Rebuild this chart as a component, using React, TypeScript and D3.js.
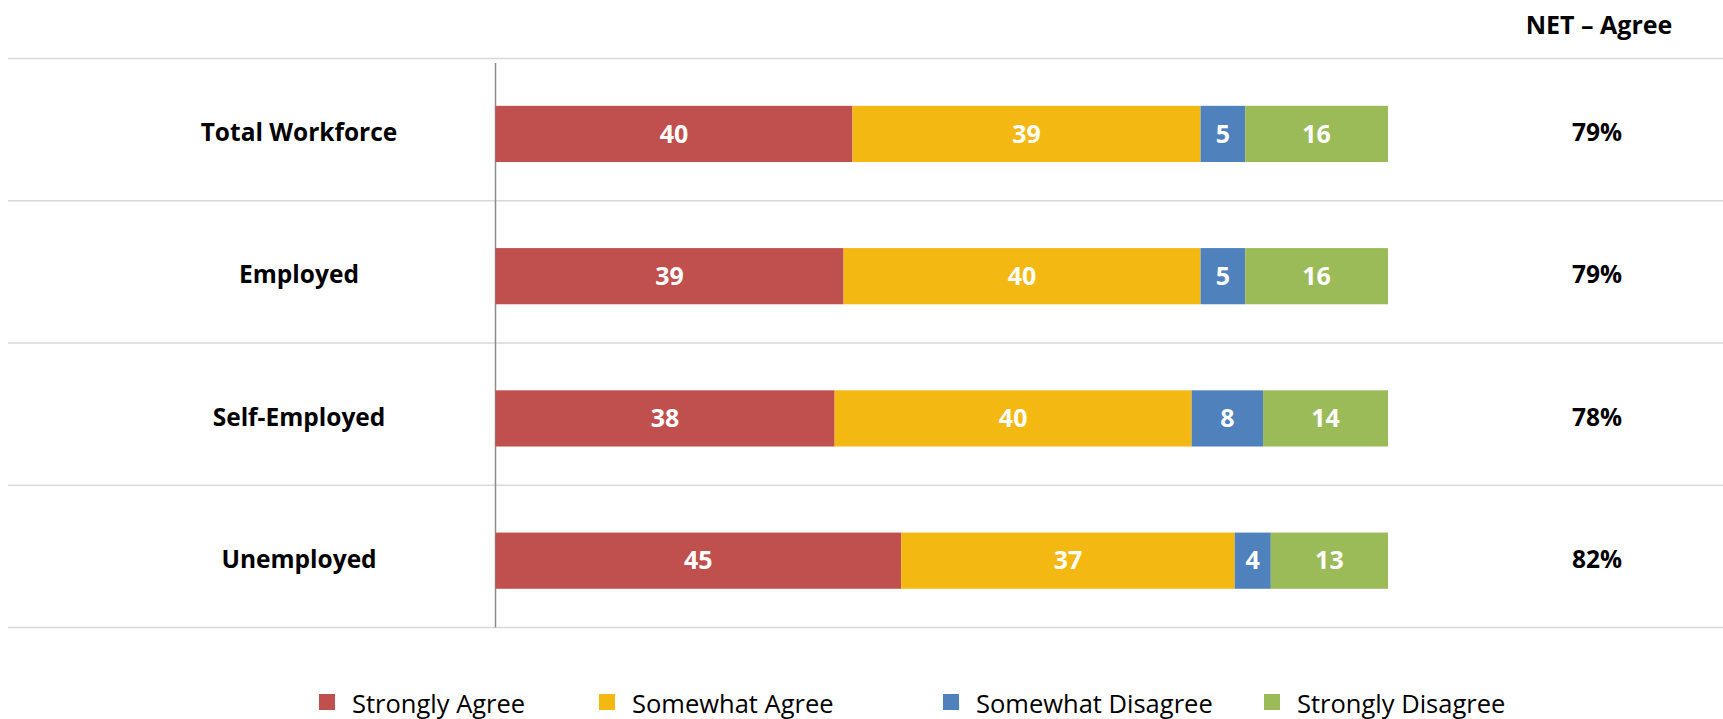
import React from "react";
import * as d3 from "d3";

const categories = ["Total Workforce", "Employed", "Self-Employed", "Unemployed"];
const seriesNames = ["Strongly Agree", "Somewhat Agree", "Somewhat Disagree", "Strongly Disagree"];
const stronglyAgree = [40, 39, 38, 45];
const somewhatAgree = [39, 40, 40, 37];
const somewhatDisagree = [5, 5, 8, 4];
const stronglyDisagree = [16, 16, 14, 13];
const netAgree = ["79%", "79%", "78%", "82%"];
const colors = ["#C0504D", "#F4B813", "#4F81BD", "#9BBB59"];

const W = 1723;
const H = 719;
const FONT = "'Open Sans', 'Liberation Sans', sans-serif";

export default function App() {
  const series = [stronglyAgree, somewhatAgree, somewhatDisagree, stronglyDisagree];
  const rows = categories.map((c, i) => {
    const r: any = { cat: c };
    seriesNames.forEach((s, j) => (r[s] = series[j][i]));
    return r;
  });
  const stacked = d3.stack<any>().keys(seriesNames).offset(d3.stackOffsetExpand)(rows);

  const x = d3.scaleLinear().domain([0, 1]).range([495.5, 1388]);
  const y = d3
    .scaleBand()
    .domain(categories)
    .range([58.5, 627.5])
    .paddingInner(0.605)
    .paddingOuter(0.3025)
    .align(0.55);
  const bandStep = y.step();
  const gridYs = d3.range(categories.length + 1).map((i) => 58.5 + i * bandStep);

  const legendX = [319, 599, 943, 1264];

  return (
    <svg width={W} height={H} style={{ position: "absolute", left: 0, top: 0, display: "block", background: "#fff" }} fontFamily={FONT}>
      {gridYs.map((gy, i) => (
        <line key={i} x1={8} x2={W} y1={gy} y2={gy} stroke="#D9D9D9" strokeWidth={1.5} />
      ))}
      <line x1={x(0)} x2={x(0)} y1={63} y2={627.5} stroke="#8C8C8C" strokeWidth={1.5} />
      <text x={1599} y={25} dy="0.35em" textAnchor="middle" fontWeight={700} fontSize={25} fill="#000">
        NET – Agree
      </text>
      {categories.map((c, i) => {
        const cy = (y(c) as number) + y.bandwidth() / 2 - 1.5;
        return (
          <g key={c}>
            <text x={299} y={cy} dy="0.35em" textAnchor="middle" fontWeight={700} fontSize={24.5} fill="#000">
              {c}
            </text>
            <text x={1597} y={cy} dy="0.35em" textAnchor="middle" fontWeight={700} fontSize={24.5} fill="#000">
              {netAgree[i]}
            </text>
          </g>
        );
      })}
      {stacked.map((layer, j) => (
        <g key={layer.key} fill={colors[j]}>
          {layer.map((d, i) => {
            const by = y(categories[i]) as number;
            const x0 = x(d[0]);
            const x1 = x(d[1]);
            return (
              <g key={i}>
                <rect x={x0} y={by} width={x1 - x0} height={y.bandwidth()} />
                <text x={(x0 + x1) / 2} y={by + y.bandwidth() / 2} dy="0.35em" textAnchor="middle" fontWeight={700} fontSize={25} fill="#fff">
                  {series[j][i]}
                </text>
              </g>
            );
          })}
        </g>
      ))}
      {seriesNames.map((s, j) => (
        <g key={s}>
          <rect x={legendX[j]} y={694} width={16} height={16} fill={colors[j]} />
          <text x={legendX[j] + 33} y={704} dy="0.35em" fontSize={25.5} fill="#000">
            {s}
          </text>
        </g>
      ))}
    </svg>
  );
}
